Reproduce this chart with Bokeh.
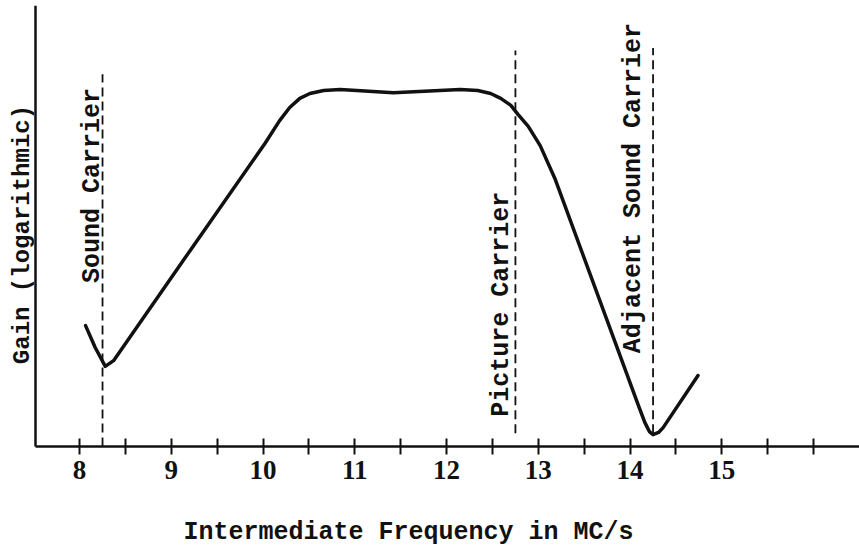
import math
from bokeh.plotting import figure
from bokeh.models import FixedTicker, CustomJSTickFormatter, Label, Range1d
from bokeh.embed import file_html
from bokeh.resources import INLINE

# ---- data ----
freq = [8.065, 8.17, 8.28, 8.37, 9.24, 10.02, 10.18, 10.29, 10.40, 10.51, 10.66,
        10.84, 11.42, 12.15, 12.34, 12.48, 12.59, 12.70, 12.78, 12.89, 13.02,
        13.18, 14.09, 14.16, 14.21, 14.25, 14.31, 14.36, 14.74]
gain = [27.6, 22.6, 18.3, 19.6, 45.8, 69.2, 74.4, 77.4, 79.5, 80.6, 81.3,
        81.5, 80.8, 81.5, 81.3, 80.6, 79.5, 77.9, 75.8, 73.1, 68.7,
        61.2, 9.4, 5.5, 3.4, 2.7, 3.2, 4.3, 16.2]

carrier_names = ["Sound Carrier", "Picture Carrier", "Adjacent Sound Carrier"]
carrier_freq = [8.25, 12.75, 14.25]
carrier_top = [85.0, 90.4, 91.0]
carrier_bottom = [0.0, 3.0, 3.0]

tick_values = [8, 8.5, 9, 9.5, 10, 10.5, 11, 11.5, 12, 12.5, 13, 13.5, 14, 14.5, 15, 15.5, 16]

x_title = "Intermediate Frequency in MC/s"
y_title = "Gain (logarithmic)"

# label anchor positions (data coordinates)
carrier_label_x = [8.14, 12.60, 14.04]
carrier_label_y = [59.6, 32.5, 59.0]

INK = "#111111"
MONO = "Liberation Mono"

X0, X1 = 7.138, 16.50      # full canvas width
Y0, Y1 = -24.9, 100.7      # full canvas height below the 5px top border
AXIS_X = 7.52              # where the gain axis stands

p = figure(width=859, height=555, output_backend="svg", toolbar_location=None,
           x_range=Range1d(X0, X1), y_range=Range1d(Y0, Y1),
           min_border_left=0, min_border_right=0, min_border_top=5, min_border_bottom=0)
p.outline_line_color = None
p.grid.visible = False
p.background_fill_color = "white"
p.border_fill_color = "white"

# x axis drawn at gain = 0
xa = p.xaxis[0]
xa.fixed_location = 0
xa.bounds = (AXIS_X, X1)
xa.ticker = FixedTicker(ticks=tick_values)
xa.formatter = CustomJSTickFormatter(code="return (Math.abs(tick % 1) < 1e-9 && tick < 15.5) ? tick.toFixed(0) : '';")
xa.axis_line_color = INK
xa.axis_line_width = 2.5
xa.major_tick_line_color = INK
xa.major_tick_line_width = 2
xa.major_tick_in = 8
xa.major_tick_out = 8
xa.minor_tick_line_color = None
xa.major_label_text_font = "Liberation Serif"
xa.major_label_text_font_style = "bold"
xa.major_label_text_font_size = "27px"
xa.major_label_text_color = INK
xa.major_label_standoff = 7

# y axis: plain line only
ya = p.yaxis[0]
ya.fixed_location = AXIS_X
ya.bounds = (0, Y1)
ya.ticker = FixedTicker(ticks=[])
ya.axis_line_color = INK
ya.axis_line_width = 2.5
ya.major_tick_line_color = None
ya.minor_tick_line_color = None
ya.major_tick_in = 0
ya.major_tick_out = 0
ya.major_label_standoff = 0
ya.major_label_text_font_size = "0px"

# carriers (dashed verticals)
p.segment(x0=carrier_freq, y0=carrier_bottom, x1=carrier_freq, y1=carrier_top,
          line_color=INK, line_width=1.8, line_dash="9 5")

# response curve
p.line(freq, gain, line_color=INK, line_width=3.5, line_join="round", line_cap="round")

# carrier labels
for name, lx, ly in zip(carrier_names, carrier_label_x, carrier_label_y):
    p.add_layout(Label(x=lx, y=ly, text=name, angle=math.pi / 2,
                       text_align="center", text_baseline="middle",
                       text_font=MONO, text_font_style="bold",
                       text_font_size="25px", text_color=INK))

# axis titles
p.add_layout(Label(x=7.378, y=48.4, text=y_title, angle=math.pi / 2,
                   text_align="center", text_baseline="middle",
                   text_font=MONO, text_font_style="bold",
                   text_font_size="24px", text_color=INK))
p.add_layout(Label(x=11.585, y=-19.6, text=x_title,
                   text_align="center", text_baseline="middle",
                   text_font=MONO, text_font_style="bold",
                   text_font_size="25px", text_color=INK))

open("out.html", "w").write(file_html(p, INLINE))
